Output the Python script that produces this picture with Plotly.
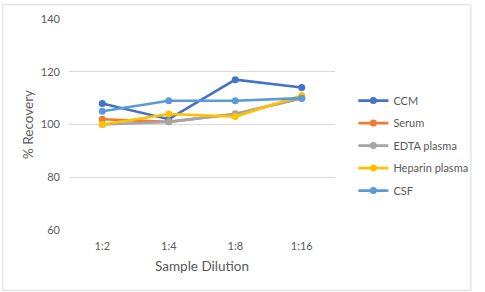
import plotly.graph_objects as go

categories = ["1:2", "1:4", "1:8", "1:16"]
ccm = [108, 102, 117, 114]
serum = [102, 101, 104, 110]
edta = [100, 101, 104, 110]
heparin = [100, 104, 103, 111]
csf = [105, 109, 109, 110]

series = [
    ("CCM", ccm, "#4472C4"),
    ("Serum", serum, "#ED7D31"),
    ("EDTA plasma", edta, "#A5A5A5"),
    ("Heparin plasma", heparin, "#FFC000"),
    ("CSF", csf, "#5B9BD5"),
]

W, H = 485, 292
L, R, T, B = 69, 141, 15, 62
pw, ph = W - L - R, H - T - B

fig = go.Figure()
for name, vals, col in series:
    fig.add_trace(go.Scatter(
        x=categories, y=vals, name=name, mode="lines+markers",
        line=dict(color=col, width=2.6),
        marker=dict(color=col, size=7),
        legendgroup=name,
    ))

font = "Lato, 'Open Sans', sans-serif"
fig.update_layout(
    width=W, height=H,
    margin=dict(l=L, r=R, t=T, b=B),
    paper_bgcolor="white", plot_bgcolor="white",
    font=dict(family=font, color="#595959", size=11),
    xaxis=dict(
        type="category", range=[-0.5, 3.5], showgrid=False, zeroline=False,
        showline=False, ticks="", tickfont=dict(size=11, color="#595959"),
        ticklabelstandoff=8,
        title=dict(text="Sample Dilution", font=dict(size=13.5, color="#595959"), standoff=10),
    ),
    yaxis=dict(
        range=[60, 140], tickvals=[60, 80, 100, 120, 140], showgrid=True,
        gridcolor="#D9D9D9", gridwidth=1, zeroline=False, showline=False,
        ticks="", tickfont=dict(size=11, color="#595959"),
        ticklabelstandoff=8,
        title=dict(text="% Recovery", font=dict(size=13.5, color="#595959"), standoff=4),
    ),
    legend=dict(
        x=(363 - L) / pw, y=1 - (144 - T) / ph, xanchor="left", yanchor="middle",
        font=dict(size=11, color="#595959", family=font),
        traceorder="grouped", tracegroupgap=3.5, itemwidth=30,
        bgcolor="rgba(0,0,0,0)",
    ),
    showlegend=True,
)

fig.add_shape(
    type="rect", xref="paper", yref="paper",
    x0=(0.5 - L) / pw, x1=(W - 0.5 - L) / pw,
    y0=1 + (T - 0.5) / ph, y1=1 - (H - 0.5 - T) / ph,
    line=dict(color="#D9D9D9", width=1), layer="below",
)

fig.write_html("out.html")
